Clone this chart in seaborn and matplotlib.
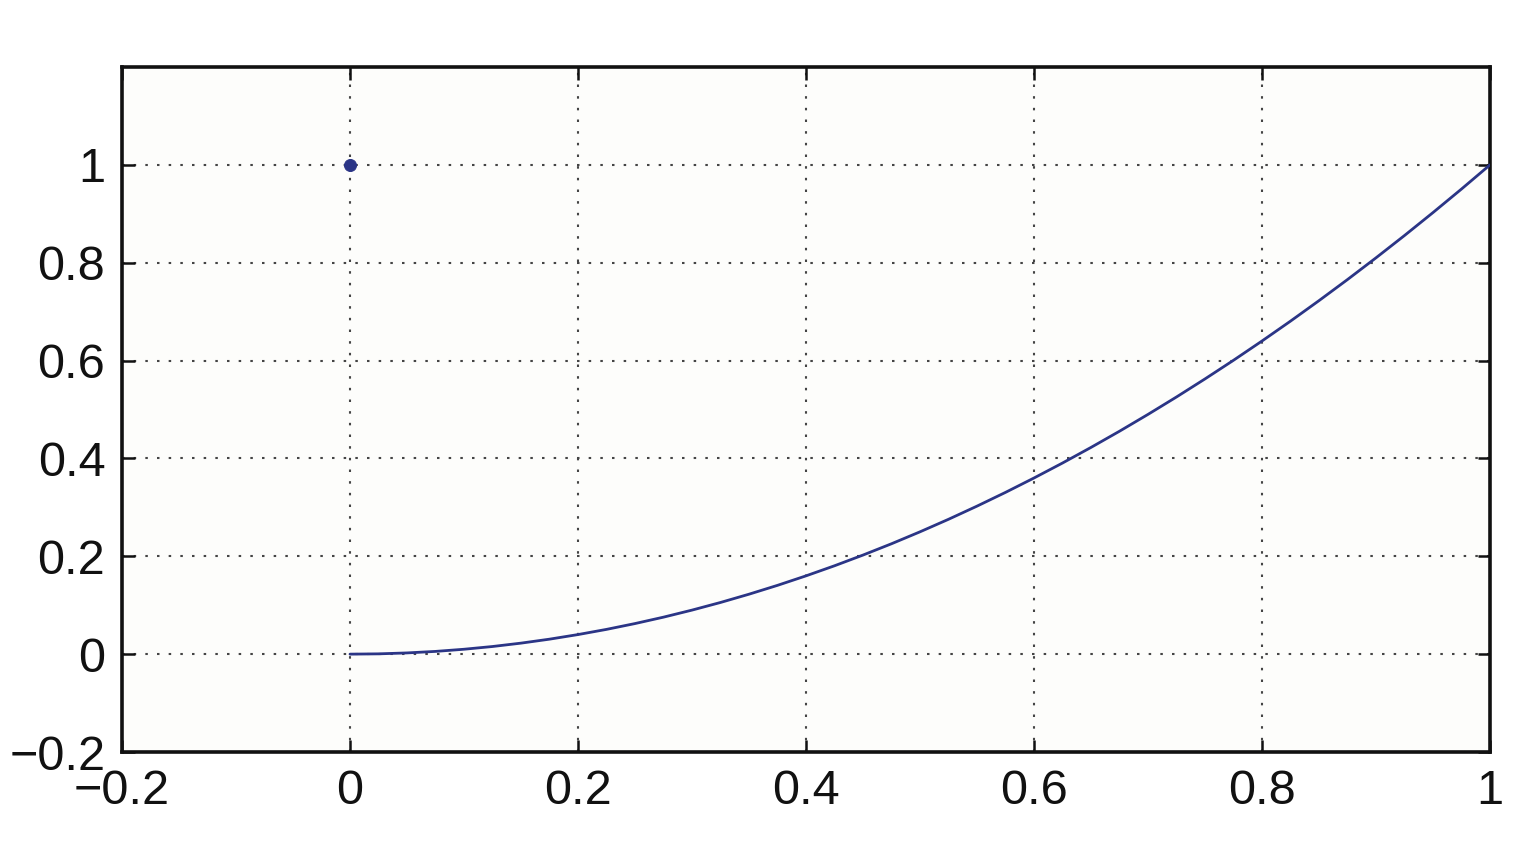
import pandas as pd
import seaborn as sns
import matplotlib.pyplot as plt
import numpy as np

# Values
x_vals = [0.0, 0.025, 0.05, 0.075, 0.1, 0.125, 0.15, 0.175, 0.2, 0.225, 0.25,
          0.275, 0.3, 0.325, 0.35, 0.375, 0.4, 0.425, 0.45, 0.475, 0.5,
          0.525, 0.55, 0.575, 0.6, 0.625, 0.65, 0.675, 0.7, 0.725, 0.75,
          0.775, 0.8, 0.825, 0.85, 0.875, 0.9, 0.925, 0.95, 0.975, 1.0]
y_vals = [0.0, 0.0006, 0.0025, 0.0056, 0.01, 0.0156, 0.0225, 0.0306, 0.04, 0.0506, 0.0625,
          0.0756, 0.09, 0.1056, 0.1225, 0.1406, 0.16, 0.1806, 0.2025, 0.2256, 0.25,
          0.2756, 0.3025, 0.3306, 0.36, 0.3906, 0.4225, 0.4556, 0.49, 0.5256, 0.5625,
          0.6006, 0.64, 0.6806, 0.7225, 0.7656, 0.81, 0.8556, 0.9025, 0.9506, 1.0]
# The single isolated point
pt_x = [0.0]
pt_y = [1.0]

x_ticks = [-0.2, 0, 0.2, 0.4, 0.6, 0.8, 1]
x_labels = ['\u22120.2', '0', '0.2', '0.4', '0.6', '0.8', '1']
y_ticks = [-0.2, 0, 0.2, 0.4, 0.6, 0.8, 1]
y_labels = ['\u22120.2', '0', '0.2', '0.4', '0.6', '0.8', '1']

df = pd.DataFrame({'x': x_vals, 'y': y_vals})
df_pt = pd.DataFrame({'x': pt_x, 'y': pt_y})

sns.set_style('ticks')
plt.rcParams['font.family'] = ['Liberation Sans', 'DejaVu Sans']

line_color = '#2b3586'

fig = plt.figure(figsize=(15.14, 8.42), dpi=100)
ax = fig.add_axes([122 / 1514, 1 - 752 / 842, (1490 - 122) / 1514, (752 - 67) / 842])
ax.set_facecolor('#fdfdfb')

sns.lineplot(data=df, x='x', y='y', ax=ax, color=line_color, linewidth=2.0, zorder=3)
sns.scatterplot(data=df_pt, x='x', y='y', ax=ax, color=line_color, s=75,
                edgecolor=line_color, zorder=4)

ax.set_xlim(-0.2, 1)
ax.set_ylim(-0.2, 1.2)
ax.set_xticks(x_ticks)
ax.set_xticklabels(x_labels)
ax.set_yticks(y_ticks)
ax.set_yticklabels(y_labels)
ax.set_xlabel('')
ax.set_ylabel('')

ax.grid(True, linestyle=(0, (1.2, 4.4)), linewidth=1.5, color='#444444')
ax.tick_params(direction='in', length=9, width=1.8, top=True, right=True,
               labelsize=35, pad=12, colors='#111111')
for s in ax.spines.values():
    s.set_linewidth(2.6)
    s.set_color('#111111')

fig.savefig('out.png', dpi=100)
